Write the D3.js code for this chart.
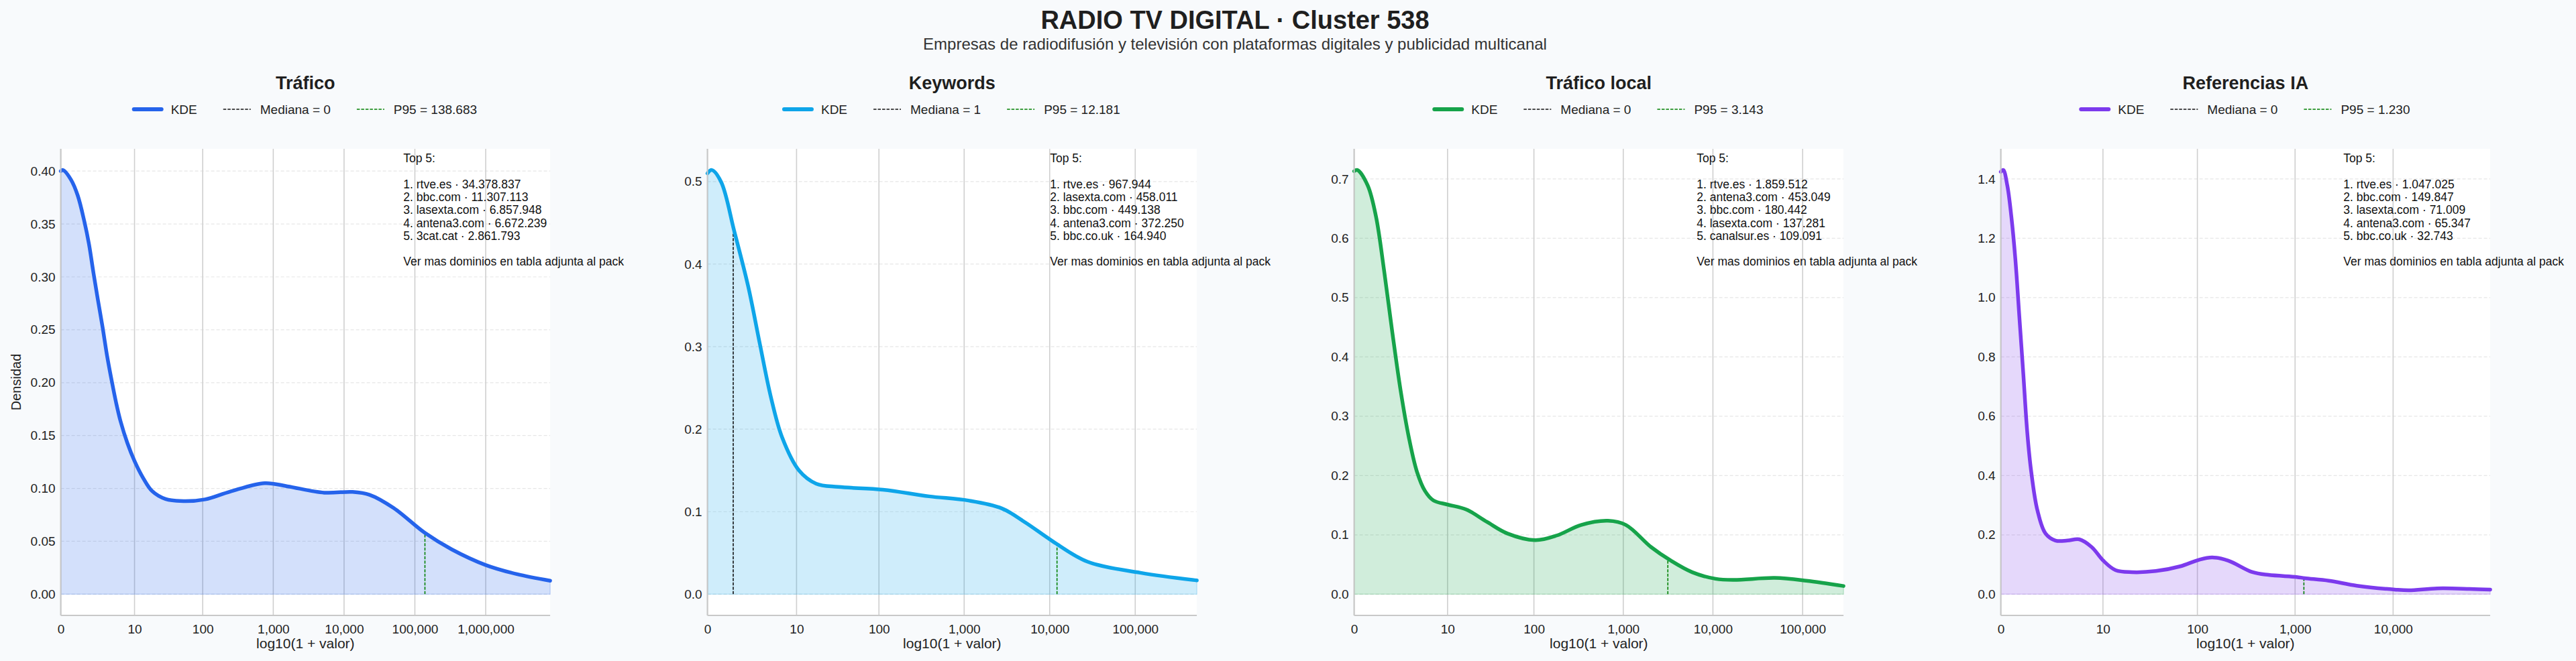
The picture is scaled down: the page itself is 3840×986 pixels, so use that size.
<!DOCTYPE html>
<html>
<head>
<meta charset="utf-8">
<script src="https://cdn.jsdelivr.net/npm/d3@7"></script>
<style>
  body { margin: 0; background: #f8fafc; }
  text { font-family: "Liberation Sans", Arial, sans-serif; fill: #222; }
</style>
</head>
<body>
<svg id="chart"></svg>
<script>
// ---- data ----
const panelTitles = ["Tráfico", "Keywords", "Tráfico local", "Referencias IA"];
const medianas = [0, 1, 0, 0];
const p95s = [138683, 12181, 3143, 1230];
const xMaxLog = [6.91, 5.72, 5.456, 4.99];
const xTickValues = [
  [0, 10, 100, 1000, 10000, 100000, 1000000],
  [0, 10, 100, 1000, 10000, 100000],
  [0, 10, 100, 1000, 10000, 100000],
  [0, 10, 100, 1000, 10000]
];
const yTickValues = [
  [0, 0.05, 0.10, 0.15, 0.20, 0.25, 0.30, 0.35, 0.40],
  [0, 0.1, 0.2, 0.3, 0.4, 0.5],
  [0, 0.1, 0.2, 0.3, 0.4, 0.5, 0.6, 0.7],
  [0, 0.2, 0.4, 0.6, 0.8, 1.0, 1.2, 1.4]
];
const yTickFormats = [".2f", ".1f", ".1f", ".1f"];

// KDE curves, x in log10(1 + valor)
const traficoX = [0, 0.03, 0.143, 0.239, 0.334, 0.398, 0.462, 0.525, 0.589, 0.653, 0.717, 0.78, 0.844, 0.94, 1.041, 1.162, 1.29, 1.48, 1.735, 2.04, 2.39, 2.88, 3.2, 3.72, 4.12, 4.36, 4.7, 5.14, 5.52, 6.0, 6.44, 6.91];
const traficoY = [0.400, 0.401, 0.392, 0.377, 0.352, 0.331, 0.3036, 0.278, 0.253, 0.2257, 0.2025, 0.1815, 0.1635, 0.143, 0.126, 0.110, 0.0975, 0.090, 0.0880, 0.0897, 0.097, 0.105, 0.102, 0.096, 0.0967, 0.094, 0.0815, 0.058, 0.0424, 0.0276, 0.019, 0.0128];

const keywordsX = [0, 0.05, 0.16, 0.313, 0.476, 0.61, 0.74, 0.873, 1.07, 1.27, 1.53, 2.05, 2.59, 3.05, 3.44, 3.72, 4.04, 4.44, 5.06, 5.72];
const keywordsY = [0.51, 0.514, 0.4995, 0.44, 0.373, 0.3045, 0.2395, 0.19, 0.150, 0.134, 0.130, 0.1267, 0.1186, 0.1135, 0.104, 0.0866, 0.0638, 0.0395, 0.026, 0.0167];

const localX = [0, 0.037, 0.151, 0.243, 0.334, 0.426, 0.518, 0.609, 0.70, 0.79, 0.884, 1.044, 1.25, 1.48, 1.71, 2.02, 2.26, 2.53, 2.83, 3.03, 3.31, 3.53, 3.77, 4.03, 4.23, 4.69, 5.04, 5.456];
const localY = [0.713, 0.715, 0.689, 0.637, 0.5455, 0.441, 0.3435, 0.265, 0.2066, 0.174, 0.158, 0.151, 0.1427, 0.122, 0.1023, 0.0912, 0.099, 0.1167, 0.1238, 0.1167, 0.0795, 0.0567, 0.037, 0.026, 0.0241, 0.0274, 0.0228, 0.0138];

const iaX = [0, 0.025, 0.066, 0.107, 0.148, 0.189, 0.23, 0.27, 0.31, 0.373, 0.455, 0.557, 0.68, 0.80, 0.926, 1.045, 1.17, 1.336, 1.58, 1.83, 2.02, 2.156, 2.32, 2.566, 2.73, 3.016, 3.1, 3.344, 3.63, 4.016, 4.16, 4.45, 4.78, 4.99];
const iaY = [1.424, 1.43, 1.378, 1.274, 1.13, 0.935, 0.739, 0.544, 0.413, 0.283, 0.205, 0.181, 0.181, 0.185, 0.159, 0.113, 0.081, 0.0743, 0.078, 0.094, 0.116, 0.1238, 0.113, 0.0743, 0.065, 0.058, 0.054, 0.0456, 0.0287, 0.0156, 0.013, 0.0196, 0.018, 0.0156];

const curvesX = [traficoX, keywordsX, localX, iaX];
const curvesY = [traficoY, keywordsY, localY, iaY];

const top5Dominios = [
  ["rtve.es", "bbc.com", "lasexta.com", "antena3.com", "3cat.cat"],
  ["rtve.es", "lasexta.com", "bbc.com", "antena3.com", "bbc.co.uk"],
  ["rtve.es", "antena3.com", "bbc.com", "lasexta.com", "canalsur.es"],
  ["rtve.es", "bbc.com", "lasexta.com", "antena3.com", "bbc.co.uk"]
];
const top5Valores = [
  [34378837, 11307113, 6857948, 6672239, 2861793],
  [967944, 458011, 449138, 372250, 164940],
  [1859512, 453049, 180442, 137281, 109091],
  [1047025, 149847, 71009, 65347, 32743]
];

const colors = ["#2563eb", "#0ea5e9", "#16a34a", "#7c3aed"];

// ---- layout ----
const W = 3840, H = 986;
const plotW = 729.5, plotTop = 222, plotBottom = 918;
const panelLeft = i => 90.6 + 964 * i;

const esFmt = d3.formatLocale({ decimal: ",", thousands: ".", grouping: [3], currency: ["", "€"] }).format(",d");
const tickFmt = d3.format(",d");

const svg = d3.select('#chart')
  .attr('width', W)
  .attr('height', H)
  .style('background', '#f8fafc');

svg.append('text')
  .attr('x', 1841).attr('y', 43)
  .attr('text-anchor', 'middle')
  .style('font-size', '38px').style('font-weight', 'bold').style('fill', '#1f1f1f')
  .text('RADIO TV DIGITAL · Cluster 538');

svg.append('text')
  .attr('x', 1841).attr('y', 74)
  .attr('text-anchor', 'middle')
  .style('font-size', '24px').style('fill', '#333')
  .text('Empresas de radiodifusión y televisión con plataformas digitales y publicidad multicanal');

panelTitles.forEach((title, i) => {
  const left = panelLeft(i);
  const cx = left + plotW / 2;
  const xs = curvesX[i], ys = curvesY[i];
  const ymax = d3.max(ys);

  const x = d3.scaleLinear().domain([0, xMaxLog[i]]).range([left, left + plotW]);
  const y = d3.scaleLinear().domain([-0.05 * ymax, 1.05 * ymax]).range([plotBottom, plotTop]);
  const kdeAt = d3.scaleLinear().domain(xs).range(ys);
  const pts = xs.map((v, k) => [v, ys[k]]);

  const g = svg.append('g');

  // plot background
  g.append('rect')
    .attr('x', left).attr('y', plotTop)
    .attr('width', plotW).attr('height', plotBottom - plotTop)
    .style('fill', '#fff');

  // horizontal dashed grid
  g.selectAll('.hgrid').data(yTickValues[i]).enter()
    .append('line')
    .attr('x1', left).attr('x2', left + plotW)
    .attr('y1', d => y(d)).attr('y2', d => y(d))
    .style('stroke', '#e6e6e6').style('stroke-width', 1.2)
    .style('stroke-dasharray', '5,3');

  // vertical solid grid
  g.selectAll('.vgrid').data(xTickValues[i]).enter()
    .append('line')
    .attr('x1', d => x(Math.log10(1 + d))).attr('x2', d => x(Math.log10(1 + d)))
    .attr('y1', plotTop).attr('y2', plotBottom)
    .style('stroke', '#cfcfcf').style('stroke-width', 1.6);

  // area + curve
  g.append('path')
    .datum(pts)
    .attr('d', d3.area().x(d => x(d[0])).y0(y(0)).y1(d => y(d[1])).curve(d3.curveCatmullRom.alpha(0.5)))
    .style('fill', colors[i]).style('fill-opacity', 0.2)
    .style('stroke', colors[i]).style('stroke-opacity', 0.25).style('stroke-width', 1.2);

  // median and p95 markers
  const medLog = Math.log10(1 + medianas[i]);
  if (medianas[i] > 0) {
    g.append('line')
      .attr('x1', x(medLog)).attr('x2', x(medLog))
      .attr('y1', y(0)).attr('y2', y(kdeAt(medLog)))
      .style('stroke', '#111').style('stroke-width', 1.6).style('stroke-dasharray', '4.5,2');
  }
  const p95Log = Math.log10(1 + p95s[i]);
  g.append('line')
    .attr('x1', x(p95Log)).attr('x2', x(p95Log))
    .attr('y1', y(0)).attr('y2', y(kdeAt(p95Log)))
    .style('stroke', 'green').style('stroke-width', 1.6).style('stroke-dasharray', '4.5,2');

  g.append('path')
    .datum(pts)
    .attr('d', d3.line().x(d => x(d[0])).y(d => y(d[1])).curve(d3.curveCatmullRom.alpha(0.5)))
    .style('fill', 'none').style('stroke', colors[i]).style('stroke-width', 5.5)
    .style('stroke-linecap', 'round').style('stroke-linejoin', 'round');

  // axes
  const xAxis = g.append('g')
    .attr('transform', 'translate(0,' + plotBottom + ')')
    .call(d3.axisBottom(x).tickValues(xTickValues[i].map(d => Math.log10(1 + d)))
      .tickFormat((d, k) => tickFmt(xTickValues[i][k])).tickSize(0).tickPadding(14));
  const yAxis = g.append('g')
    .attr('transform', 'translate(' + left + ',0)')
    .call(d3.axisLeft(y).tickValues(yTickValues[i]).tickFormat(d3.format(yTickFormats[i])).tickSize(0).tickPadding(8));
  [xAxis, yAxis].forEach(a => {
    a.select('.domain').style('stroke', '#c8c8c8').style('stroke-width', 2);
    a.selectAll('text').style('font-size', '19px').style('fill', '#222')
      .style('font-family', '"Liberation Sans", Arial, sans-serif');
  });
  yAxis.select('.domain').attr('d', 'M0,' + plotBottom + 'V' + plotTop);
  xAxis.select('.domain').attr('d', 'M' + left + ',0H' + (left + plotW));

  g.append('text')
    .attr('x', cx).attr('y', 967)
    .attr('text-anchor', 'middle')
    .style('font-size', '21px')
    .text('log10(1 + valor)');

  if (i === 0) {
    g.append('text')
      .attr('transform', 'translate(31,' + ((plotTop + plotBottom) / 2) + ') rotate(-90)')
      .attr('text-anchor', 'middle')
      .style('font-size', '20px')
      .text('Densidad');
  }

  // panel title
  g.append('text')
    .attr('x', cx).attr('y', 133)
    .attr('text-anchor', 'middle')
    .style('font-size', '27px').style('font-weight', 'bold').style('fill', '#1f1f1f')
    .text(title);

  // legend
  const items = [
    { label: 'KDE', color: colors[i], width: 6, dash: null },
    { label: 'Mediana = ' + esFmt(medianas[i]), color: '#111', width: 1.6, dash: '4.5,2' },
    { label: 'P95 = ' + esFmt(p95s[i]), color: 'green', width: 1.6, dash: '4.5,2' }
  ];
  const leg = g.append('g');
  let cursor = 0;
  items.forEach(it => {
    const ig = leg.append('g').attr('transform', 'translate(' + cursor + ',0)');
    ig.append('line')
      .attr('x1', 0).attr('x2', 41).attr('y1', 0).attr('y2', 0)
      .style('stroke', it.color).style('stroke-width', it.width)
      .style('stroke-dasharray', it.dash).style('stroke-linecap', it.dash ? 'butt' : 'round');
    const t = ig.append('text')
      .attr('x', 55).attr('y', 6.8)
      .style('font-size', '19px')
      .text(it.label);
    cursor += 55 + t.node().getComputedTextLength() + 39;
  });
  const legW = cursor - 39;
  leg.attr('transform', 'translate(' + (cx - legW / 2) + ',163)');

  // top 5 annotation
  const lines = ['Top 5:', ''];
  top5Dominios[i].forEach((dom, k) => lines.push((k + 1) + '. ' + dom + ' · ' + esFmt(top5Valores[i][k])));
  lines.push('', 'Ver mas dominios en tabla adjunta al pack');
  const note = g.append('text')
    .attr('x', left + 0.70 * plotW).attr('y', 242)
    .style('font-size', '17.5px').style('fill', '#111');
  note.selectAll('tspan').data(lines).enter()
    .append('tspan')
    .attr('x', left + 0.70 * plotW)
    .attr('dy', (d, k) => k === 0 ? 0 : 19.3)
    .text(d => d === '' ? '\u00a0' : d);
});
</script>
</body>
</html>
